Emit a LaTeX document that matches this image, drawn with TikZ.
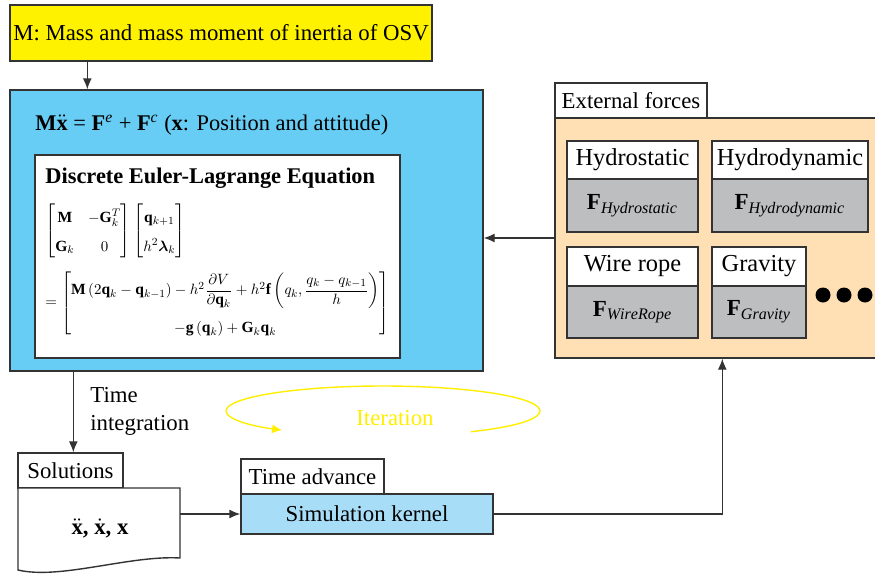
\documentclass[tikz,border=0pt]{standalone}
\usepackage{amsmath}
\usepackage{graphicx}
\usepackage{bm}
\usepackage{fontspec}
\setmainfont{Liberation Serif}
\usetikzlibrary{fit,arrows.meta,calc}
\definecolor{linec}{HTML}{333333}
\definecolor{ybox}{HTML}{FFF200}
\definecolor{bbox}{HTML}{68CDF4}
\definecolor{kbox}{HTML}{A8DDF7}
\definecolor{obox}{HTML}{FFE0B4}
\definecolor{gbox}{HTML}{BCBEC0}
\definecolor{iterc}{HTML}{FFEE00}
\begin{document}
\begin{tikzpicture}[x=0.5pt,y=-0.5pt,
  font=\fontsize{11.4}{14}\selectfont,
  box/.style={draw=linec, line width=0.7pt, inner sep=0pt},
  arr/.style={draw=linec, line width=0.7pt, -{Latex[length=5.5pt,width=4.5pt]}},
  lbl/.style={inner sep=0pt, font=\fontsize{11.4}{14}\selectfont},
  ftl/.style={inner sep=0pt, font=\fontsize{12.2}{14}\selectfont},
  fvl/.style={inner sep=0pt, font=\fontsize{11.5}{14}\selectfont},
  ftitle/.style={box, fill=white},
  fval/.style={box, fill=gbox}]
\useasboundingbox (0,0) rectangle (875,574);

% top mass box
\node[box, fill=ybox, fit={(10,5)(432,61)}, label={[lbl]center:M: Mass and mass moment of inertia of OSV}] (mass) {};

% equation of motion box
\node[box, fill=bbox, fit={(10,90)(483,371)}] (eom) {};
\node[anchor=west, inner sep=0pt, font=\fontsize{11.2}{14}\selectfont] (eomt) at (35,125)
  {$\mathbf{M}\ddot{\mathbf{x}}$ = $\mathbf{F}^{\mathit{e}}$ + $\mathbf{F}^{\mathit{c}}$ ($\mathbf{x}$: Position and attitude)};
\node[box, fill=white, fit={(35,155)(400,358)}] (del) {};
\node[anchor=west, inner sep=0pt, font=\fontsize{11.2}{13}\selectfont\bfseries] (delt) at (45,178)
  {Discrete Euler-Lagrange Equation};
\node[anchor=west, inner sep=0pt] (eq1) at (45,231)
  {\resizebox{70pt}{!}{\renewcommand{\arraystretch}{1.5}$\begin{bmatrix}\mathbf{M} & -\mathbf{G}_k^{T}\\ \mathbf{G}_k & 0\end{bmatrix}\begin{bmatrix}\mathbf{q}_{k+1}\\ h^{2}\bm{\lambda}_k\end{bmatrix}$}};
\node[anchor=west, inner sep=0pt] (eq2) at (45,303)
  {\resizebox{172pt}{!}{$=\begin{bmatrix}\mathbf{M}\left(2\mathbf{q}_k-\mathbf{q}_{k-1}\right)-h^{2}\dfrac{\partial V}{\partial\mathbf{q}_k}+h^{2}\mathbf{f}\left(q_k,\dfrac{q_k-q_{k-1}}{h}\right)\\[14pt] -\mathbf{g}\left(\mathbf{q}_k\right)+\mathbf{G}_k\mathbf{q}_k\\[-4pt]\end{bmatrix}$}};

% external forces
\node[box, fill=obox, fit={(555,118)(880,358)}] (ext) {};
\node[box, fill=white, fit={(555,83)(707,118)}, label={[lbl]center:External forces}] (extt) {};
\node[ftitle, fit={(567,141)(698,179)}, label={[ftl]center:Hydrostatic}] (hst) {};
\node[fval, fit={(567,179)(698,232)}, label={[fvl]center:$\mathbf{F}_{\mathit{Hydrostatic}}$}] (hsf) {};
\node[ftitle, fit={(712,141)(868,179)}, label={[ftl]center:Hydrodynamic}] (hdt) {};
\node[fval, fit={(712,179)(868,232)}, label={[fvl]center:$\mathbf{F}_{\mathit{Hydrodynamic}}$}] (hdf) {};
\node[ftitle, fit={(567,247)(698,286)}, label={[ftl]center:Wire rope}] (wrt) {};
\node[fval, fit={(567,286)(698,338)}, label={[fvl]center:$\mathbf{F}_{\mathit{WireRope}}$}] (wrf) {};
\node[ftitle, fit={(712,247)(806,286)}, label={[ftl]center:Gravity}] (grt) {};
\node[fval, fit={(712,286)(806,338)}, label={[fvl]center:$\mathbf{F}_{\mathit{Gravity}}$}] (grf) {};
\node[circle, fill=black, inner sep=0pt, minimum size=7.5pt] (d1) at (823,295) {};
\node[circle, fill=black, inner sep=0pt, minimum size=7.5pt] (d2) at (844,295) {};
\node[circle, fill=black, inner sep=0pt, minimum size=7.5pt] (d3) at (865,295) {};

% solutions
\node[box, fill=white, fit={(18,453)(123,488)}, label={[lbl]center:Solutions}] (solt) {};
\draw[linec, line width=0.7pt, fill=white] (18,488) -- (180,488) -- (180,558)
  .. controls (130,555) and (60,580) .. (18,570) -- cycle;
\coordinate (sold) at (180,512);
\node[inner sep=0pt] (solv) at (100,528) {$\ddot{\mathbf{x}}$\textbf{,} $\dot{\mathbf{x}}$\textbf{,} $\mathbf{x}$};

% time advance / kernel
\node[box, fill=white, fit={(241,459)(384,494)}, label={[lbl]center:Time advance}] (tadv) {};
\node[box, fill=kbox, fit={(241,494)(493,534)}, label={[lbl]center:Simulation kernel}] (kern) {};

% iteration
\draw[iterc, line width=0.7pt, -{Latex[length=5pt,width=4.5pt]}] (383,411) ++(56:157 and 25)
  arc[start angle=56, end angle=-230, x radius=157, y radius=25];
\node[text=iterc, inner sep=0pt] (iter) at (395,418) {Iteration};

% connectors
\draw[arr] ([xshift=39pt]mass.south west) -- ([xshift=39pt]eom.north west);
\draw[arr] (ext.west) -- (ext.west -| eom.east);
\draw[arr] ([xshift=32pt]eom.south west) -- ([xshift=28pt]solt.north west);
\node[anchor=west, align=left, inner sep=0pt] (tint) at (90,411) {Time\\integration};
\draw[arr] (kern.west -| sold) -- (kern.west);
\draw[arr] (kern.east) -| ([xshift=84pt]ext.south west);
\end{tikzpicture}
\end{document}
